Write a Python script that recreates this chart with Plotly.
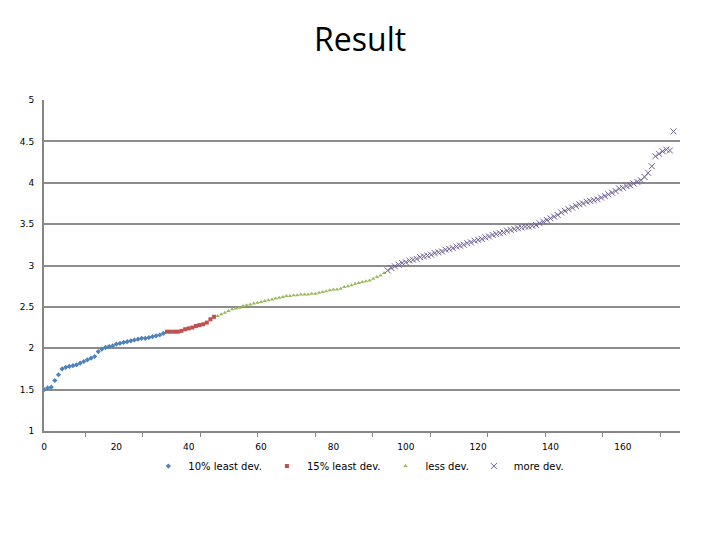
import plotly.graph_objects as go

# values, one per sample, index = x position
x_least10 = list(range(0, 34))
y_least10 = [1.50, 1.52, 1.53, 1.61, 1.68, 1.75, 1.77, 1.78, 1.79, 1.80,
             1.82, 1.84, 1.86, 1.88, 1.90, 1.96, 1.99, 2.01, 2.02, 2.03,
             2.05, 2.06, 2.07, 2.08, 2.09, 2.10, 2.11, 2.12, 2.12, 2.13,
             2.14, 2.15, 2.16, 2.18]

x_least15 = list(range(34, 48))
y_least15 = [2.20, 2.20, 2.20, 2.20, 2.21, 2.23, 2.24, 2.25, 2.27, 2.28,
             2.29, 2.31, 2.35, 2.38]

x_less = list(range(48, 95))
y_less = [2.39, 2.41, 2.43, 2.45, 2.47, 2.48, 2.49, 2.51, 2.52, 2.53,
          2.54, 2.55, 2.56, 2.57, 2.58, 2.59, 2.60, 2.61, 2.62, 2.63,
          2.63, 2.64, 2.64, 2.65, 2.65, 2.65, 2.66, 2.66, 2.67, 2.68,
          2.69, 2.70, 2.71, 2.71, 2.72, 2.74, 2.75, 2.76, 2.78, 2.79,
          2.80, 2.81, 2.82, 2.84, 2.86, 2.88, 2.91]

x_more = list(range(95, 175))
y_more = [2.94, 2.97, 2.99, 3.01, 3.03, 3.04, 3.06, 3.07, 3.08, 3.10,
          3.11, 3.12, 3.13, 3.15, 3.16, 3.17, 3.19, 3.20, 3.21, 3.23,
          3.24, 3.25, 3.27, 3.28, 3.30, 3.31, 3.32, 3.34, 3.35, 3.37,
          3.38, 3.39, 3.40, 3.42, 3.43, 3.44, 3.45, 3.46, 3.47, 3.47,
          3.48, 3.49, 3.51, 3.53, 3.55, 3.57, 3.59, 3.61, 3.64, 3.66,
          3.68, 3.70, 3.72, 3.74, 3.75, 3.77, 3.78, 3.79, 3.80, 3.82,
          3.84, 3.86, 3.88, 3.90, 3.93, 3.94, 3.96, 3.97, 3.99, 4.01,
          4.03, 4.07, 4.12, 4.20, 4.32, 4.35, 4.38, 4.40, 4.39, 4.62]

x_ticks = [0, 20, 40, 60, 80, 100, 120, 140, 160]
y_ticks = [1, 1.5, 2, 2.5, 3, 3.5, 4, 4.5, 5]

fig = go.Figure()
fig.add_trace(go.Scatter(x=x_least10, y=y_least10, mode="markers", name="10% least dev.",
                         marker=dict(symbol="diamond", size=4, color="#4F81BD")))
fig.add_trace(go.Scatter(x=x_least15, y=y_least15, mode="markers", name="15% least dev.",
                         marker=dict(symbol="square", size=4, color="#C0504D")))
fig.add_trace(go.Scatter(x=x_less, y=y_less, mode="markers", name="less dev.",
                         marker=dict(symbol="triangle-up", size=4, color="#9BBB59")))
fig.add_trace(go.Scatter(x=x_more, y=y_more, mode="markers", name="more dev.",
                         marker=dict(symbol="x-thin-open", size=6, color="#6E5E92",
                                     line=dict(width=1, color="#6E5E92"))))

# page body has an 8px margin, so the figure is shifted by 8px
fig.update_layout(
    width=720, height=540,
    paper_bgcolor="white", plot_bgcolor="white",
    margin=dict(l=34, r=48, t=92, b=117),
    title=dict(text="Result", x=0.489, xanchor="center", y=0.941, yanchor="middle",
               font=dict(family="Open Sans", size=32, color="black")),
    font=dict(family="DejaVu Sans", size=9, color="black"),
    legend=dict(orientation="h", x=0.495, xanchor="center", y=-0.106, yanchor="middle",
                font=dict(size=10), itemwidth=30, tracegroupgap=0),
)
fig.update_xaxes(range=[0, 175.8], tickvals=x_ticks, showgrid=False,
                 showline=True, linecolor="#868686", linewidth=2,
                 ticks="", ticklabelstandoff=6, zeroline=False,
                 minor=dict(ticks="outside", tick0=11.4, dtick=15.9, ticklen=4,
                            tickcolor="#868686", showgrid=False))
fig.update_yaxes(range=[1, 5], tickvals=y_ticks, showgrid=True,
                 gridcolor="#8C8C8C", gridwidth=2,
                 showline=True, linecolor="#868686", linewidth=2,
                 ticks="", ticklabelstandoff=6, zeroline=False)

fig.write_html("out.html")
